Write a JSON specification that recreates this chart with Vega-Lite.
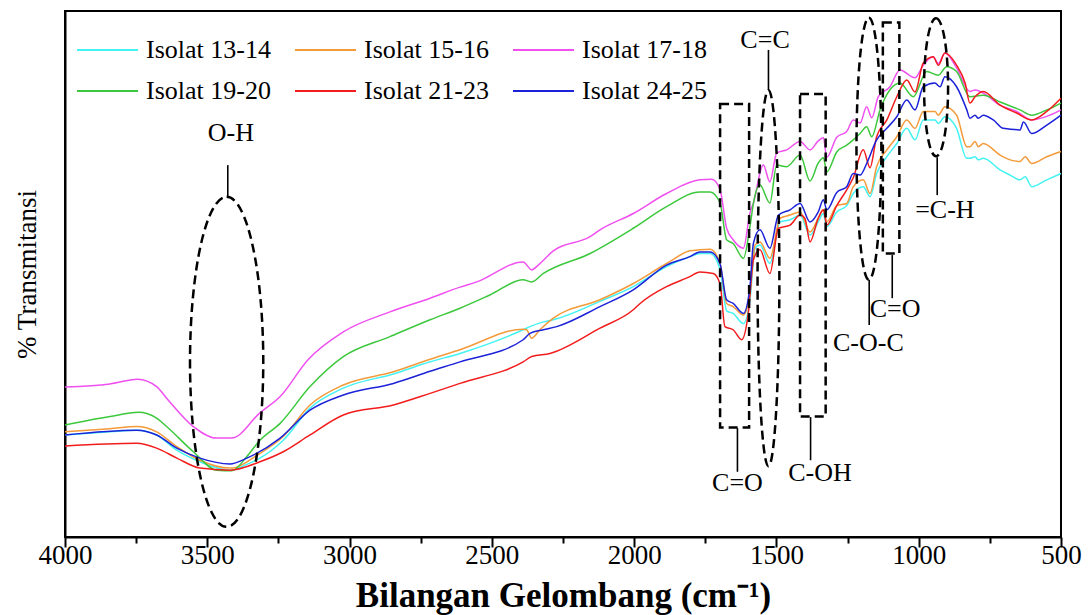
{
  "$schema": "https://vega.github.io/schema/vega-lite/v6.json",
  "width": 996,
  "height": 526,
  "autosize": {"type": "none"},
  "padding": {"left": 65, "top": 11, "right": 28, "bottom": 78},
  "config": {
    "font": "Liberation Serif",
    "view": {"stroke": "black", "strokeWidth": 2},
    "axis": {"grid": false, "domainColor": "black", "domainWidth": 2, "tickColor": "black", "tickWidth": 2, "labelColor": "black", "titleColor": "black", "labelFont": "Liberation Serif", "titleFont": "Liberation Serif"}
  },
  "layer": [
    {
      "data": {"values": [
        {"s":"Isolat 13-14","w":4000,"t":19.4},{"s":"Isolat 13-14","w":3842,"t":20.0},{"s":"Isolat 13-14","w":3748,"t":20.3},{"s":"Isolat 13-14","w":3678,"t":19.4},{"s":"Isolat 13-14","w":3607,"t":16.5},{"s":"Isolat 13-14","w":3526,"t":14.3},{"s":"Isolat 13-14","w":3420,"t":12.7},{"s":"Isolat 13-14","w":3361,"t":13.8},{"s":"Isolat 13-14","w":3315,"t":15.0},{"s":"Isolat 13-14","w":3233,"t":18.4},{"s":"Isolat 13-14","w":3139,"t":24.5},{"s":"Isolat 13-14","w":3022,"t":28.3},{"s":"Isolat 13-14","w":2846,"t":31.0},{"s":"Isolat 13-14","w":2717,"t":33.3},{"s":"Isolat 13-14","w":2612,"t":34.9},{"s":"Isolat 13-14","w":2390,"t":39.4},{"s":"Isolat 13-14","w":2366,"t":40.0},{"s":"Isolat 13-14","w":2319,"t":40.9},{"s":"Isolat 13-14","w":2284,"t":41.3},{"s":"Isolat 13-14","w":2120,"t":44.8},{"s":"Isolat 13-14","w":2003,"t":47.6},{"s":"Isolat 13-14","w":1886,"t":51.4},{"s":"Isolat 13-14","w":1804,"t":53.3},{"s":"Isolat 13-14","w":1769,"t":53.9},{"s":"Isolat 13-14","w":1733,"t":53.9},{"s":"Isolat 13-14","w":1698,"t":50.8},{"s":"Isolat 13-14","w":1675,"t":43.0},{"s":"Isolat 13-14","w":1652,"t":42.5},{"s":"Isolat 13-14","w":1616,"t":40.6},{"s":"Isolat 13-14","w":1593,"t":45.1},{"s":"Isolat 13-14","w":1575,"t":54.9},{"s":"Isolat 13-14","w":1558,"t":55.5},{"s":"Isolat 13-14","w":1523,"t":52.0},{"s":"Isolat 13-14","w":1487,"t":59.9},{"s":"Isolat 13-14","w":1452,"t":60.3},{"s":"Isolat 13-14","w":1417,"t":61.2},{"s":"Isolat 13-14","w":1382,"t":57.4},{"s":"Isolat 13-14","w":1353,"t":59.9},{"s":"Isolat 13-14","w":1335,"t":61.5},{"s":"Isolat 13-14","w":1323,"t":59.0},{"s":"Isolat 13-14","w":1288,"t":61.8},{"s":"Isolat 13-14","w":1253,"t":63.0},{"s":"Isolat 13-14","w":1230,"t":65.3},{"s":"Isolat 13-14","w":1195,"t":66.6},{"s":"Isolat 13-14","w":1171,"t":64.7},{"s":"Isolat 13-14","w":1148,"t":69.1},{"s":"Isolat 13-14","w":1112,"t":72.3},{"s":"Isolat 13-14","w":1077,"t":74.8},{"s":"Isolat 13-14","w":1042,"t":77.7},{"s":"Isolat 13-14","w":1013,"t":75.5},{"s":"Isolat 13-14","w":984,"t":79.3},{"s":"Isolat 13-14","w":943,"t":79.3},{"s":"Isolat 13-14","w":931,"t":78.6},{"s":"Isolat 13-14","w":908,"t":79.9},{"s":"Isolat 13-14","w":867,"t":77.7},{"s":"Isolat 13-14","w":831,"t":72.0},{"s":"Isolat 13-14","w":820,"t":72.0},{"s":"Isolat 13-14","w":802,"t":72.3},{"s":"Isolat 13-14","w":791,"t":71.7},{"s":"Isolat 13-14","w":773,"t":72.0},{"s":"Isolat 13-14","w":714,"t":69.8},{"s":"Isolat 13-14","w":679,"t":68.8},{"s":"Isolat 13-14","w":644,"t":67.9},{"s":"Isolat 13-14","w":626,"t":68.5},{"s":"Isolat 13-14","w":603,"t":66.6},{"s":"Isolat 13-14","w":550,"t":67.9},{"s":"Isolat 13-14","w":500,"t":69.1},

        {"s":"Isolat 15-16","w":4000,"t":20.0},{"s":"Isolat 15-16","w":3842,"t":20.6},{"s":"Isolat 15-16","w":3748,"t":21.0},{"s":"Isolat 15-16","w":3678,"t":20.0},{"s":"Isolat 15-16","w":3607,"t":17.2},{"s":"Isolat 15-16","w":3526,"t":14.6},{"s":"Isolat 15-16","w":3420,"t":13.1},{"s":"Isolat 15-16","w":3315,"t":15.9},{"s":"Isolat 15-16","w":3233,"t":19.1},{"s":"Isolat 15-16","w":3139,"t":25.1},{"s":"Isolat 15-16","w":3022,"t":28.9},{"s":"Isolat 15-16","w":2846,"t":31.4},{"s":"Isolat 15-16","w":2717,"t":33.8},{"s":"Isolat 15-16","w":2612,"t":35.6},{"s":"Isolat 15-16","w":2390,"t":39.5},{"s":"Isolat 15-16","w":2378,"t":39.4},{"s":"Isolat 15-16","w":2360,"t":37.8},{"s":"Isolat 15-16","w":2331,"t":39.4},{"s":"Isolat 15-16","w":2284,"t":41.6},{"s":"Isolat 15-16","w":2120,"t":45.1},{"s":"Isolat 15-16","w":2003,"t":48.2},{"s":"Isolat 15-16","w":1886,"t":52.0},{"s":"Isolat 15-16","w":1804,"t":54.4},{"s":"Isolat 15-16","w":1769,"t":54.6},{"s":"Isolat 15-16","w":1733,"t":54.7},{"s":"Isolat 15-16","w":1698,"t":52.0},{"s":"Isolat 15-16","w":1675,"t":44.4},{"s":"Isolat 15-16","w":1652,"t":43.8},{"s":"Isolat 15-16","w":1616,"t":42.2},{"s":"Isolat 15-16","w":1593,"t":46.3},{"s":"Isolat 15-16","w":1575,"t":55.5},{"s":"Isolat 15-16","w":1558,"t":56.1},{"s":"Isolat 15-16","w":1523,"t":53.0},{"s":"Isolat 15-16","w":1487,"t":60.6},{"s":"Isolat 15-16","w":1452,"t":61.2},{"s":"Isolat 15-16","w":1417,"t":61.8},{"s":"Isolat 15-16","w":1382,"t":58.0},{"s":"Isolat 15-16","w":1353,"t":60.6},{"s":"Isolat 15-16","w":1335,"t":62.2},{"s":"Isolat 15-16","w":1323,"t":59.9},{"s":"Isolat 15-16","w":1288,"t":63.0},{"s":"Isolat 15-16","w":1253,"t":63.4},{"s":"Isolat 15-16","w":1230,"t":66.6},{"s":"Isolat 15-16","w":1195,"t":67.9},{"s":"Isolat 15-16","w":1171,"t":65.3},{"s":"Isolat 15-16","w":1148,"t":70.4},{"s":"Isolat 15-16","w":1112,"t":73.6},{"s":"Isolat 15-16","w":1077,"t":76.1},{"s":"Isolat 15-16","w":1042,"t":79.3},{"s":"Isolat 15-16","w":1013,"t":77.7},{"s":"Isolat 15-16","w":984,"t":80.9},{"s":"Isolat 15-16","w":943,"t":80.9},{"s":"Isolat 15-16","w":931,"t":80.2},{"s":"Isolat 15-16","w":908,"t":81.8},{"s":"Isolat 15-16","w":867,"t":80.2},{"s":"Isolat 15-16","w":831,"t":74.2},{"s":"Isolat 15-16","w":820,"t":74.2},{"s":"Isolat 15-16","w":802,"t":75.2},{"s":"Isolat 15-16","w":791,"t":74.2},{"s":"Isolat 15-16","w":773,"t":74.8},{"s":"Isolat 15-16","w":714,"t":72.6},{"s":"Isolat 15-16","w":679,"t":71.7},{"s":"Isolat 15-16","w":644,"t":71.4},{"s":"Isolat 15-16","w":626,"t":72.3},{"s":"Isolat 15-16","w":603,"t":71.0},{"s":"Isolat 15-16","w":550,"t":72.3},{"s":"Isolat 15-16","w":500,"t":73.3},

        {"s":"Isolat 17-18","w":4000,"t":28.5},{"s":"Isolat 17-18","w":3842,"t":29.1},{"s":"Isolat 17-18","w":3745,"t":30.0},{"s":"Isolat 17-18","w":3678,"t":28.6},{"s":"Isolat 17-18","w":3643,"t":26.4},{"s":"Isolat 17-18","w":3549,"t":21.0},{"s":"Isolat 17-18","w":3467,"t":18.8},{"s":"Isolat 17-18","w":3414,"t":18.8},{"s":"Isolat 17-18","w":3315,"t":23.6},{"s":"Isolat 17-18","w":3244,"t":26.7},{"s":"Isolat 17-18","w":3146,"t":33.7},{"s":"Isolat 17-18","w":3022,"t":39.0},{"s":"Isolat 17-18","w":2858,"t":42.8},{"s":"Isolat 17-18","w":2717,"t":45.4},{"s":"Isolat 17-18","w":2612,"t":47.5},{"s":"Isolat 17-18","w":2553,"t":48.5},{"s":"Isolat 17-18","w":2390,"t":52.3},{"s":"Isolat 17-18","w":2360,"t":50.8},{"s":"Isolat 17-18","w":2337,"t":51.7},{"s":"Isolat 17-18","w":2284,"t":54.4},{"s":"Isolat 17-18","w":2155,"t":57.1},{"s":"Isolat 17-18","w":2120,"t":58.4},{"s":"Isolat 17-18","w":2003,"t":61.5},{"s":"Isolat 17-18","w":1886,"t":65.3},{"s":"Isolat 17-18","w":1769,"t":67.9},{"s":"Isolat 17-18","w":1727,"t":68.0},{"s":"Isolat 17-18","w":1698,"t":66.0},{"s":"Isolat 17-18","w":1675,"t":58.7},{"s":"Isolat 17-18","w":1652,"t":56.5},{"s":"Isolat 17-18","w":1616,"t":54.9},{"s":"Isolat 17-18","w":1593,"t":61.6},{"s":"Isolat 17-18","w":1581,"t":63.5},{"s":"Isolat 17-18","w":1546,"t":70.7},{"s":"Isolat 17-18","w":1523,"t":67.5},{"s":"Isolat 17-18","w":1499,"t":73.0},{"s":"Isolat 17-18","w":1464,"t":73.6},{"s":"Isolat 17-18","w":1417,"t":75.2},{"s":"Isolat 17-18","w":1382,"t":73.6},{"s":"Isolat 17-18","w":1353,"t":75.3},{"s":"Isolat 17-18","w":1335,"t":75.9},{"s":"Isolat 17-18","w":1323,"t":72.2},{"s":"Isolat 17-18","w":1288,"t":76.0},{"s":"Isolat 17-18","w":1253,"t":77.1},{"s":"Isolat 17-18","w":1230,"t":79.3},{"s":"Isolat 17-18","w":1206,"t":78.7},{"s":"Isolat 17-18","w":1183,"t":81.8},{"s":"Isolat 17-18","w":1165,"t":79.7},{"s":"Isolat 17-18","w":1142,"t":83.7},{"s":"Isolat 17-18","w":1101,"t":85.6},{"s":"Isolat 17-18","w":1066,"t":88.8},{"s":"Isolat 17-18","w":1013,"t":87.3},{"s":"Isolat 17-18","w":984,"t":89.7},{"s":"Isolat 17-18","w":949,"t":91.3},{"s":"Isolat 17-18","w":931,"t":90.0},{"s":"Isolat 17-18","w":908,"t":92.0},{"s":"Isolat 17-18","w":867,"t":89.2},{"s":"Isolat 17-18","w":820,"t":84.7},{"s":"Isolat 17-18","w":802,"t":85.0},{"s":"Isolat 17-18","w":773,"t":84.4},{"s":"Isolat 17-18","w":714,"t":82.1},{"s":"Isolat 17-18","w":656,"t":80.9},{"s":"Isolat 17-18","w":603,"t":79.3},{"s":"Isolat 17-18","w":539,"t":80.2},{"s":"Isolat 17-18","w":500,"t":81.2},

        {"s":"Isolat 19-20","w":4000,"t":21.3},{"s":"Isolat 19-20","w":3842,"t":22.9},{"s":"Isolat 19-20","w":3742,"t":23.7},{"s":"Isolat 19-20","w":3678,"t":22.6},{"s":"Isolat 19-20","w":3643,"t":21.0},{"s":"Isolat 19-20","w":3549,"t":16.2},{"s":"Isolat 19-20","w":3467,"t":12.7},{"s":"Isolat 19-20","w":3414,"t":12.6},{"s":"Isolat 19-20","w":3361,"t":15.3},{"s":"Isolat 19-20","w":3315,"t":18.4},{"s":"Isolat 19-20","w":3244,"t":21.6},{"s":"Isolat 19-20","w":3139,"t":28.6},{"s":"Isolat 19-20","w":3022,"t":34.3},{"s":"Isolat 19-20","w":2858,"t":38.1},{"s":"Isolat 19-20","w":2717,"t":41.3},{"s":"Isolat 19-20","w":2612,"t":43.5},{"s":"Isolat 19-20","w":2507,"t":46.0},{"s":"Isolat 19-20","w":2390,"t":48.9},{"s":"Isolat 19-20","w":2360,"t":48.5},{"s":"Isolat 19-20","w":2319,"t":50.1},{"s":"Isolat 19-20","w":2155,"t":53.9},{"s":"Isolat 19-20","w":2003,"t":58.7},{"s":"Isolat 19-20","w":1886,"t":62.8},{"s":"Isolat 19-20","w":1769,"t":65.6},{"s":"Isolat 19-20","w":1733,"t":65.6},{"s":"Isolat 19-20","w":1698,"t":63.5},{"s":"Isolat 19-20","w":1675,"t":56.5},{"s":"Isolat 19-20","w":1652,"t":55.8},{"s":"Isolat 19-20","w":1616,"t":53.0},{"s":"Isolat 19-20","w":1593,"t":59.0},{"s":"Isolat 19-20","w":1581,"t":63.4},{"s":"Isolat 19-20","w":1558,"t":66.9},{"s":"Isolat 19-20","w":1523,"t":63.5},{"s":"Isolat 19-20","w":1499,"t":70.7},{"s":"Isolat 19-20","w":1464,"t":70.4},{"s":"Isolat 19-20","w":1417,"t":72.6},{"s":"Isolat 19-20","w":1382,"t":67.7},{"s":"Isolat 19-20","w":1353,"t":71.1},{"s":"Isolat 19-20","w":1335,"t":72.1},{"s":"Isolat 19-20","w":1323,"t":69.4},{"s":"Isolat 19-20","w":1288,"t":73.2},{"s":"Isolat 19-20","w":1253,"t":74.5},{"s":"Isolat 19-20","w":1230,"t":75.5},{"s":"Isolat 19-20","w":1206,"t":76.7},{"s":"Isolat 19-20","w":1183,"t":78.0},{"s":"Isolat 19-20","w":1165,"t":76.1},{"s":"Isolat 19-20","w":1136,"t":81.2},{"s":"Isolat 19-20","w":1066,"t":86.3},{"s":"Isolat 19-20","w":1019,"t":83.7},{"s":"Isolat 19-20","w":972,"t":88.5},{"s":"Isolat 19-20","w":931,"t":87.8},{"s":"Isolat 19-20","w":902,"t":89.4},{"s":"Isolat 19-20","w":867,"t":88.5},{"s":"Isolat 19-20","w":820,"t":83.7},{"s":"Isolat 19-20","w":773,"t":84.0},{"s":"Isolat 19-20","w":714,"t":82.7},{"s":"Isolat 19-20","w":644,"t":81.2},{"s":"Isolat 19-20","w":603,"t":80.2},{"s":"Isolat 19-20","w":550,"t":81.2},{"s":"Isolat 19-20","w":500,"t":82.5},

        {"s":"Isolat 21-23","w":4000,"t":17.3},{"s":"Isolat 21-23","w":3748,"t":17.8},{"s":"Isolat 21-23","w":3678,"t":16.9},{"s":"Isolat 21-23","w":3607,"t":15.0},{"s":"Isolat 21-23","w":3526,"t":13.1},{"s":"Isolat 21-23","w":3420,"t":12.7},{"s":"Isolat 21-23","w":3315,"t":14.3},{"s":"Isolat 21-23","w":3233,"t":16.2},{"s":"Isolat 21-23","w":3139,"t":19.4},{"s":"Isolat 21-23","w":3022,"t":23.2},{"s":"Isolat 21-23","w":2846,"t":25.1},{"s":"Isolat 21-23","w":2717,"t":27.3},{"s":"Isolat 21-23","w":2612,"t":29.2},{"s":"Isolat 21-23","w":2390,"t":33.3},{"s":"Isolat 21-23","w":2360,"t":34.3},{"s":"Isolat 21-23","w":2296,"t":34.9},{"s":"Isolat 21-23","w":2120,"t":39.7},{"s":"Isolat 21-23","w":2003,"t":43.2},{"s":"Isolat 21-23","w":1979,"t":44.4},{"s":"Isolat 21-23","w":1886,"t":47.6},{"s":"Isolat 21-23","w":1804,"t":49.5},{"s":"Isolat 21-23","w":1769,"t":50.4},{"s":"Isolat 21-23","w":1722,"t":50.1},{"s":"Isolat 21-23","w":1698,"t":48.1},{"s":"Isolat 21-23","w":1681,"t":40.0},{"s":"Isolat 21-23","w":1652,"t":39.4},{"s":"Isolat 21-23","w":1622,"t":37.5},{"s":"Isolat 21-23","w":1599,"t":42.5},{"s":"Isolat 21-23","w":1581,"t":52.7},{"s":"Isolat 21-23","w":1558,"t":54.6},{"s":"Isolat 21-23","w":1523,"t":50.1},{"s":"Isolat 21-23","w":1493,"t":58.7},{"s":"Isolat 21-23","w":1452,"t":59.3},{"s":"Isolat 21-23","w":1417,"t":61.2},{"s":"Isolat 21-23","w":1400,"t":60.6},{"s":"Isolat 21-23","w":1382,"t":56.1},{"s":"Isolat 21-23","w":1353,"t":60.6},{"s":"Isolat 21-23","w":1335,"t":62.2},{"s":"Isolat 21-23","w":1323,"t":59.3},{"s":"Isolat 21-23","w":1288,"t":63.0},{"s":"Isolat 21-23","w":1253,"t":66.0},{"s":"Isolat 21-23","w":1230,"t":68.3},{"s":"Isolat 21-23","w":1195,"t":73.6},{"s":"Isolat 21-23","w":1171,"t":70.2},{"s":"Isolat 21-23","w":1148,"t":76.1},{"s":"Isolat 21-23","w":1112,"t":79.3},{"s":"Isolat 21-23","w":1077,"t":83.7},{"s":"Isolat 21-23","w":1042,"t":86.9},{"s":"Isolat 21-23","w":1013,"t":84.6},{"s":"Isolat 21-23","w":984,"t":90.1},{"s":"Isolat 21-23","w":949,"t":91.3},{"s":"Isolat 21-23","w":931,"t":89.7},{"s":"Isolat 21-23","w":908,"t":92.0},{"s":"Isolat 21-23","w":867,"t":89.7},{"s":"Isolat 21-23","w":837,"t":86.3},{"s":"Isolat 21-23","w":820,"t":82.5},{"s":"Isolat 21-23","w":802,"t":83.7},{"s":"Isolat 21-23","w":773,"t":84.7},{"s":"Isolat 21-23","w":714,"t":82.1},{"s":"Isolat 21-23","w":656,"t":80.6},{"s":"Isolat 21-23","w":603,"t":79.3},{"s":"Isolat 21-23","w":550,"t":80.9},{"s":"Isolat 21-23","w":500,"t":83.4},

        {"s":"Isolat 24-25","w":4000,"t":19.4},{"s":"Isolat 24-25","w":3748,"t":20.3},{"s":"Isolat 24-25","w":3678,"t":19.4},{"s":"Isolat 24-25","w":3607,"t":16.9},{"s":"Isolat 24-25","w":3526,"t":15.0},{"s":"Isolat 24-25","w":3420,"t":13.9},{"s":"Isolat 24-25","w":3361,"t":15.0},{"s":"Isolat 24-25","w":3244,"t":18.8},{"s":"Isolat 24-25","w":3139,"t":24.1},{"s":"Isolat 24-25","w":3022,"t":27.0},{"s":"Isolat 24-25","w":2846,"t":29.2},{"s":"Isolat 24-25","w":2717,"t":31.5},{"s":"Isolat 24-25","w":2612,"t":33.3},{"s":"Isolat 24-25","w":2390,"t":37.5},{"s":"Isolat 24-25","w":2366,"t":38.7},{"s":"Isolat 24-25","w":2319,"t":39.4},{"s":"Isolat 24-25","w":2272,"t":40.0},{"s":"Isolat 24-25","w":2120,"t":43.8},{"s":"Isolat 24-25","w":2003,"t":47.0},{"s":"Isolat 24-25","w":1886,"t":51.7},{"s":"Isolat 24-25","w":1804,"t":53.3},{"s":"Isolat 24-25","w":1769,"t":54.2},{"s":"Isolat 24-25","w":1733,"t":54.2},{"s":"Isolat 24-25","w":1698,"t":51.9},{"s":"Isolat 24-25","w":1675,"t":45.1},{"s":"Isolat 24-25","w":1652,"t":44.4},{"s":"Isolat 24-25","w":1616,"t":42.5},{"s":"Isolat 24-25","w":1593,"t":47.6},{"s":"Isolat 24-25","w":1581,"t":55.8},{"s":"Isolat 24-25","w":1558,"t":58.4},{"s":"Isolat 24-25","w":1523,"t":54.9},{"s":"Isolat 24-25","w":1493,"t":61.2},{"s":"Isolat 24-25","w":1452,"t":62.2},{"s":"Isolat 24-25","w":1417,"t":63.4},{"s":"Isolat 24-25","w":1382,"t":59.9},{"s":"Isolat 24-25","w":1353,"t":61.8},{"s":"Isolat 24-25","w":1335,"t":64.1},{"s":"Isolat 24-25","w":1323,"t":62.2},{"s":"Isolat 24-25","w":1288,"t":65.5},{"s":"Isolat 24-25","w":1253,"t":66.6},{"s":"Isolat 24-25","w":1230,"t":69.1},{"s":"Isolat 24-25","w":1206,"t":68.8},{"s":"Isolat 24-25","w":1183,"t":71.0},{"s":"Isolat 24-25","w":1148,"t":75.5},{"s":"Isolat 24-25","w":1112,"t":77.7},{"s":"Isolat 24-25","w":1077,"t":79.9},{"s":"Isolat 24-25","w":1042,"t":83.1},{"s":"Isolat 24-25","w":1013,"t":81.2},{"s":"Isolat 24-25","w":984,"t":85.6},{"s":"Isolat 24-25","w":943,"t":86.3},{"s":"Isolat 24-25","w":925,"t":85.6},{"s":"Isolat 24-25","w":908,"t":87.5},{"s":"Isolat 24-25","w":867,"t":85.6},{"s":"Isolat 24-25","w":831,"t":81.2},{"s":"Isolat 24-25","w":820,"t":79.6},{"s":"Isolat 24-25","w":802,"t":80.2},{"s":"Isolat 24-25","w":791,"t":79.6},{"s":"Isolat 24-25","w":773,"t":80.2},{"s":"Isolat 24-25","w":738,"t":79.3},{"s":"Isolat 24-25","w":703,"t":77.7},{"s":"Isolat 24-25","w":644,"t":77.4},{"s":"Isolat 24-25","w":632,"t":78.9},{"s":"Isolat 24-25","w":603,"t":76.7},{"s":"Isolat 24-25","w":550,"t":78.3},{"s":"Isolat 24-25","w":500,"t":80.2}
      ]},
      "mark": {"type": "line", "strokeWidth": 1.5, "interpolate": "monotone"},
      "encoding": {
        "x": {
          "field": "w", "type": "quantitative",
          "scale": {"domain": [500, 4000], "reverse": true, "nice": false, "zero": false},
          "axis": {
            "values": [4000, 3750, 3500, 3250, 3000, 2750, 2500, 2250, 2000, 1750, 1500, 1250, 1000, 750, 500],
            "format": "d",
            "labelExpr": "datum.value % 500 === 0 ? datum.label : ''",
            "tickSize": {"condition": {"test": "datum.value % 500 === 0", "value": 10}, "value": 6},
            "labelFontSize": 27,
            "labelPadding": -5,
            "labelFlush": false,
            "labelOverlap": false,
            "title": "Bilangan Gelombang (cm⁻¹)",
            "titleFontSize": 35,
            "titleFontWeight": "bold",
            "titlePadding": 10
          }
        },
        "y": {
          "field": "t", "type": "quantitative",
          "scale": {"domain": [0, 100], "nice": false},
          "axis": {"labels": false, "ticks": false, "title": "% Transmitansi", "titleFontSize": 27, "titleFontWeight": "normal", "titlePadding": 24}
        },
        "color": {
          "field": "s", "type": "nominal",
          "scale": {"domain": ["Isolat 13-14", "Isolat 15-16", "Isolat 17-18", "Isolat 19-20", "Isolat 21-23", "Isolat 24-25"],
                    "range": ["#44F2F2", "#F39A3A", "#F050F0", "#3CC83C", "#F21C1C", "#1C22D8"]},
          "legend": {
            "title": null, "orient": "none", "legendX": 11, "legendY": 26,
            "direction": "horizontal", "columns": 3,
            "symbolType": "stroke", "symbolSize": 3721, "symbolStrokeWidth": 2,
            "labelFontSize": 26, "labelFont": "Liberation Serif", "labelColor": "black",
            "labelOffset": 7, "columnPadding": 23, "rowPadding": 15, "clipHeight": 26, "padding": 0, "labelLimit": 300
          }
        }
      }
    },
    {
      "data": {"values": [
        {"group": "C=O", "wa": 1698, "wb": 1596, "ta": 82.3, "tb": 20.8},
        {"group": "C-OH", "wa": 1417, "wb": 1327, "ta": 84.2, "tb": 22.9},
        {"group": "C=O", "wa": 1126, "wb": 1068, "ta": 97.8, "tb": 53.9}
      ]},
      "mark": {"type": "rect", "fill": null, "filled": false, "stroke": "black", "strokeWidth": 2.5, "strokeDash": [9, 5]},
      "encoding": {
        "x": {"field": "wa", "type": "quantitative"},
        "x2": {"field": "wb"},
        "y": {"field": "ta", "type": "quantitative"},
        "y2": {"field": "tb"}
      }
    },
    {
      "data": {"values": [{"group": "O-H", "w": 3432, "t": 33.3}]},
      "mark": {"type": "point", "filled": false, "stroke": "black", "strokeWidth": 2.5, "strokeDash": [9, 5], "opacity": 1, "size": 108900, "shape": "M0,-1A0.222,1 0 1,1 0,1A0.222,1 0 1,1 0,-1Z"},
      "encoding": {"x": {"field": "w", "type": "quantitative"}, "y": {"field": "t", "type": "quantitative"}}
    },
    {
      "data": {"values": [{"group": "C=C", "w": 1528, "t": 49.2}]},
      "mark": {"type": "point", "filled": false, "stroke": "black", "strokeWidth": 2.5, "strokeDash": [9, 5], "opacity": 1, "size": 141376, "shape": "M0,-1A0.058,1 0 1,1 0,1A0.058,1 0 1,1 0,-1Z"},
      "encoding": {"x": {"field": "w", "type": "quantitative"}, "y": {"field": "t", "type": "quantitative"}}
    },
    {
      "data": {"values": [{"group": "C-O-C", "w": 1175, "t": 73.8}]},
      "mark": {"type": "point", "filled": false, "stroke": "black", "strokeWidth": 2.5, "strokeDash": [9, 5], "opacity": 1, "size": 68644, "shape": "M0,-1A0.095,1 0 1,1 0,1A0.095,1 0 1,1 0,-1Z"},
      "encoding": {"x": {"field": "w", "type": "quantitative"}, "y": {"field": "t", "type": "quantitative"}}
    },
    {
      "data": {"values": [{"group": "=C-H", "w": 939, "t": 85.5}]},
      "mark": {"type": "point", "filled": false, "stroke": "black", "strokeWidth": 2.5, "strokeDash": [9, 5], "opacity": 1, "size": 19044, "shape": "M0,-1A0.174,1 0 1,1 0,1A0.174,1 0 1,1 0,-1Z"},
      "encoding": {"x": {"field": "w", "type": "quantitative"}, "y": {"field": "t", "type": "quantitative"}}
    },
    {
      "data": {"values": [
        {"group": "O-H", "w": 3428, "ta": 70.7, "tb": 64.6},
        {"group": "C=C", "w": 1528, "ta": 92.6, "tb": 85.0},
        {"group": "C=O", "w": 1637, "ta": 20.7, "tb": 12.4},
        {"group": "C-OH", "w": 1380, "ta": 22.8, "tb": 14.6},
        {"group": "C-O-C", "w": 1174, "ta": 48.9, "tb": 40.3},
        {"group": "C=O", "w": 1093, "ta": 53.6, "tb": 45.4},
        {"group": "=C-H", "w": 935, "ta": 72.2, "tb": 65.0}
      ]},
      "mark": {"type": "rule", "stroke": "black", "strokeWidth": 1.6},
      "encoding": {
        "x": {"field": "w", "type": "quantitative"},
        "y": {"field": "ta", "type": "quantitative"},
        "y2": {"field": "tb"}
      }
    },
    {
      "data": {"values": [
        {"label": "O-H", "w": 3417, "t": 76.8},
        {"label": "C=C", "w": 1540, "t": 94.5},
        {"label": "C=O", "w": 1637, "t": 10.3},
        {"label": "C-OH", "w": 1347, "t": 12.2},
        {"label": "C-O-C", "w": 1177, "t": 36.8},
        {"label": "C=O", "w": 1083, "t": 43.3},
        {"label": "=C-H", "w": 908, "t": 62.2}
      ]},
      "mark": {"type": "text", "font": "Liberation Serif", "fontSize": 26, "color": "black", "align": "center", "baseline": "middle"},
      "encoding": {
        "x": {"field": "w", "type": "quantitative"},
        "y": {"field": "t", "type": "quantitative"},
        "text": {"field": "label"}
      }
    }
  ]
}
